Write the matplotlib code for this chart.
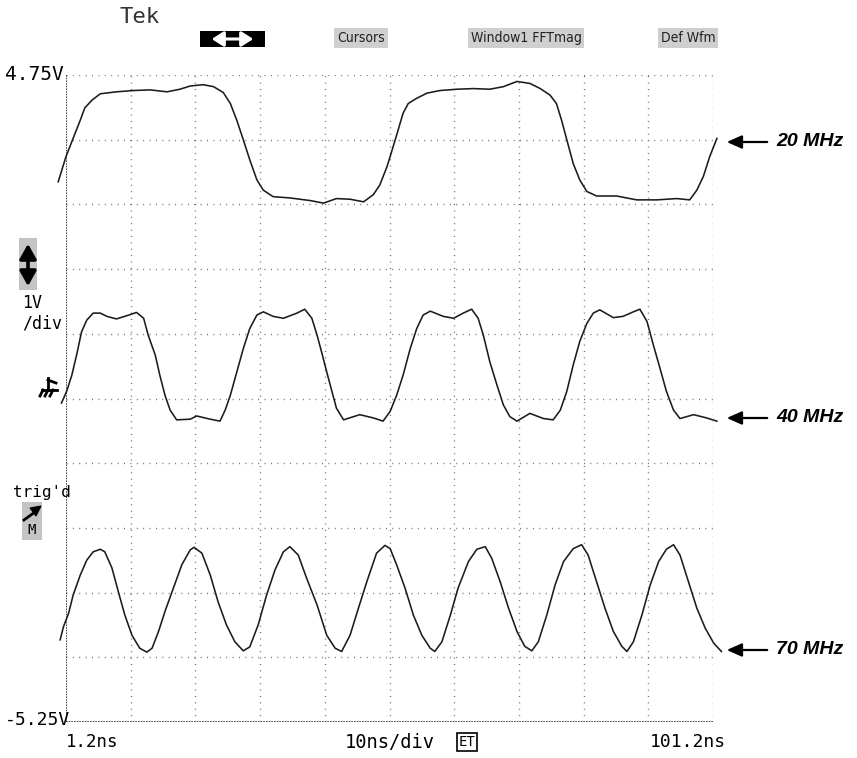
import numpy as np
import matplotlib.pyplot as plt
from matplotlib.patches import Rectangle, FancyArrowPatch, Polygon
from matplotlib.lines import Line2D

# scope settings
t_left, t_div = 1.2, 10.0      # ns
v_top, v_div = 4.75, 1.0       # V
n_div = 10

# 20 MHz trace (time in ns, volts)
t20 = [0.0, 1.2, 2.1, 3.4, 4.1, 5.2, 6.5, 9.0, 11.6, 14.2, 16.8, 18.8, 20.4, 22.4, 24.0,
       25.5, 26.6, 27.6, 28.6, 29.6, 30.7, 31.7, 33.2, 35.8, 38.9, 41.0, 43.0, 45.1, 47.2,
       48.7, 49.7, 50.8, 51.3, 52.3, 53.3, 54.1, 55.4, 57.0, 59.0, 61.6, 64.2, 66.7, 68.8,
       70.9, 72.9, 74.5, 76.0, 77.0, 77.8, 78.6, 79.6, 80.6, 81.7, 83.2, 86.3, 89.4, 92.5,
       95.6, 97.6, 98.7, 99.7, 100.7, 101.8]
v20 = [3.10, 3.49, 3.72, 4.05, 4.24, 4.36, 4.46, 4.49, 4.51, 4.52, 4.49, 4.53, 4.58, 4.60,
       4.57, 4.48, 4.31, 4.05, 3.75, 3.44, 3.13, 2.97, 2.87, 2.85, 2.81, 2.77, 2.84, 2.83,
       2.79, 2.90, 3.05, 3.33, 3.49, 3.82, 4.16, 4.31, 4.39, 4.47, 4.51, 4.53, 4.54, 4.53,
       4.57, 4.65, 4.62, 4.54, 4.44, 4.31, 4.05, 3.75, 3.38, 3.13, 2.95, 2.88, 2.88, 2.82,
       2.82, 2.84, 2.82, 2.97, 3.18, 3.49, 3.77]

# 40 MHz trace
t40 = [0.5, 1.3, 2.1, 2.9, 3.6, 4.4, 5.4, 6.5, 7.5, 9.0, 10.6, 12.1, 13.2, 13.9, 15.0,
       15.7, 16.5, 17.3, 18.3, 20.4, 21.4, 23.5, 25.0, 25.8, 26.6, 27.6, 28.6, 29.6, 30.7,
       31.7, 33.2, 34.8, 36.9, 38.1, 39.2, 40.0, 40.7, 41.5, 42.3, 43.0, 44.1, 46.6, 48.7,
       50.2, 51.3, 52.3, 53.3, 54.4, 55.4, 56.4, 57.5, 59.5, 61.1, 62.6, 63.9, 64.9, 65.7,
       66.7, 67.8, 68.8, 69.8, 70.9, 72.9, 75.0, 76.5, 77.6, 78.6, 79.6, 80.6, 81.7, 82.7,
       83.7, 85.8, 87.3, 88.9, 89.9, 91.0, 92.0, 93.0, 94.0, 95.1, 96.1, 98.2, 100.2, 101.8]
v40 = [-0.32, -0.14, 0.11, 0.45, 0.78, 0.96, 1.07, 1.07, 1.02, 0.98, 1.03, 1.08, 0.99,
       0.73, 0.42, 0.11, -0.20, -0.43, -0.58, -0.57, -0.52, -0.57, -0.60, -0.43, -0.20,
       0.16, 0.52, 0.83, 1.04, 1.09, 1.02, 0.99, 1.07, 1.13, 0.99, 0.73, 0.47, 0.16, -0.14,
       -0.40, -0.58, -0.50, -0.55, -0.60, -0.45, -0.20, 0.11, 0.52, 0.83, 1.04, 1.10, 1.02,
       0.99, 1.07, 1.13, 0.99, 0.73, 0.32, -0.04, -0.35, -0.53, -0.60, -0.48, -0.56, -0.58,
       -0.43, -0.14, 0.27, 0.63, 0.91, 1.07, 1.12, 1.00, 1.02, 1.09, 1.13, 0.94, 0.57, 0.22,
       -0.14, -0.43, -0.56, -0.50, -0.55, -0.60]

# 70 MHz trace
t70 = [0.3, 0.8, 1.6, 2.3, 3.4, 4.4, 5.4, 6.5, 7.2, 8.3, 9.3, 10.3, 11.4, 12.6, 13.7,
       14.5, 15.5, 16.5, 17.8, 19.1, 20.4, 21.0, 22.2, 23.5, 24.7, 26.0, 27.3, 28.6, 29.6,
       30.9, 32.2, 33.5, 34.8, 35.8, 37.1, 38.4, 40.0, 41.5, 42.8, 43.8, 45.1, 46.4, 47.7,
       49.2, 50.5, 51.3, 52.3, 53.6, 54.9, 56.2, 57.5, 58.2, 59.3, 60.6, 61.8, 63.4, 64.7,
       66.0, 67.0, 68.3, 69.6, 70.9, 72.1, 73.2, 74.2, 75.5, 76.8, 78.1, 79.6, 80.9, 81.9,
       83.2, 84.5, 85.8, 87.1, 87.9, 88.9, 90.2, 91.5, 92.8, 94.0, 95.1, 96.1, 97.4, 98.7,
       100.0, 101.3, 102.5]
v70 = [-3.98, -3.78, -3.57, -3.29, -2.98, -2.75, -2.62, -2.58, -2.62, -2.87, -3.24, -3.60,
       -3.91, -4.11, -4.17, -4.11, -3.85, -3.54, -3.18, -2.82, -2.59, -2.55, -2.64, -2.98,
       -3.39, -3.75, -4.01, -4.15, -4.09, -3.75, -3.29, -2.90, -2.62, -2.54, -2.67, -3.03,
       -3.44, -3.91, -4.11, -4.16, -3.91, -3.49, -3.08, -2.64, -2.52, -2.57, -2.82, -3.18,
       -3.60, -3.91, -4.11, -4.16, -4.01, -3.60, -3.18, -2.77, -2.58, -2.54, -2.72, -3.08,
       -3.49, -3.85, -4.08, -4.15, -4.01, -3.60, -3.13, -2.77, -2.57, -2.51, -2.67, -3.08,
       -3.49, -3.85, -4.08, -4.16, -4.01, -3.60, -3.13, -2.77, -2.58, -2.51, -2.67, -3.08,
       -3.49, -3.80, -4.03, -4.16]

trace_names = ['20 MHz', '40 MHz', '70 MHz']
menu_items = ['Cursors', 'Window1 FFTmag', 'Def Wfm']

W, H = 857, 758
fig = plt.figure(figsize=(W / 100, H / 100), dpi=100)
fig.patch.set_facecolor('white')


def P(x, y):
    """pixel position -> figure fraction"""
    return x / W, 1 - y / H


# graticule box in pixels
gx0, gx1, gy0, gy1 = 66, 713, 75, 722
ax = fig.add_axes([gx0 / W, 1 - gy1 / H, (gx1 - gx0) / W, (gy1 - gy0) / H])
t_right = t_left + n_div * t_div
v_bot = v_top - n_div * v_div
ax.set_xlim(t_left, t_right)
ax.set_ylim(v_bot, v_top)
ax.axis('off')

xs = t_left + t_div * np.arange(n_div + 1)
ys = v_top - v_div * np.arange(n_div + 1)
dots = (0, (0.7, 3.9))
for x in xs[1:]:
    ax.axvline(x, color='#6a6a6a', lw=1.0, ls=dots)
for y in ys[:-1]:
    ax.axhline(y, color='#6a6a6a', lw=1.0, ls=dots)
ax.axvline(xs[0], color='#303030', lw=1.2, ls=(0, (1, 0.6)))
ax.axhline(ys[-1], color='#303030', lw=1.2, ls=(0, (1, 0.6)))

for t, v in [(t20, v20), (t40, v40), (t70, v70)]:
    ax.plot(t, v, color='#1c1c1c', lw=1.15, clip_on=False)

# labels on the right with arrows
label_y = [142, 418, 650]
for lab, y in zip(trace_names, label_y):
    fig.patches.append(FancyArrowPatch(P(770, y), P(724, y), transform=fig.transFigure,
                                       arrowstyle='-|>,head_length=9,head_width=4',
                                       color='black', lw=1.6, mutation_scale=1))
    fig.text(*P(776, y), lab, ha='left', va='center', fontsize=14, fontweight='bold',
             fontstyle='italic', family='Liberation Sans')

mono = 'DejaVu Sans Mono'
fig.text(*P(34, 75), '4.75V', ha='center', va='center', fontsize=14, family=mono)
fig.text(*P(37, 720), '-5.25V', ha='center', va='center', fontsize=13, family=mono)
fig.text(*P(92, 742), '1.2ns', ha='center', va='center', fontsize=12.5, family=mono)
fig.text(*P(390, 742), '10ns/div', ha='center', va='center', fontsize=13.5, family=mono)
fig.text(*P(467, 742), 'ET', ha='center', va='center', fontsize=10, family=mono,
         bbox=dict(boxstyle='square,pad=0.15', fc='white', ec='black', lw=1.2))
fig.text(*P(688, 742), '101.2ns', ha='center', va='center', fontsize=13, family=mono)
fig.text(*P(32, 303), '1V', ha='center', va='center', fontsize=12, family=mono)
fig.text(*P(42, 323), '/div', ha='center', va='center', fontsize=12, family=mono)
fig.text(*P(42, 492), "trig'd", ha='center', va='center', fontsize=11.5, family=mono)

# top menu bar
fig.text(*P(140, 17), 'Tek', ha='center', va='center', fontsize=16, color='#333333',
         family=mono)
fig.patches.append(Rectangle(P(200, 47), 65 / W, 16 / H, transform=fig.transFigure,
                             fc='black', ec='none'))
fig.patches.append(FancyArrowPatch(P(209, 39), P(256, 39), transform=fig.transFigure,
                                   arrowstyle='<|-|>,head_length=7,head_width=4.5',
                                   color='white', lw=2.2, mutation_scale=1))
for lab, x in zip(menu_items, [361, 526, 688]):
    fig.text(*P(x, 38), lab, ha='center', va='center', fontsize=10,
             family='DejaVu Sans', stretch='condensed', color='#222222',
             bbox=dict(boxstyle='square,pad=0.2', fc='#cfcfcf', ec='none'))

# volts/div icon
fig.patches.append(Rectangle(P(19, 290), 18 / W, 52 / H, transform=fig.transFigure,
                             fc='#c4c4c4', ec='none'))
fig.patches.append(FancyArrowPatch(P(28, 241), P(28, 289), transform=fig.transFigure,
                                   arrowstyle='<|-|>,head_length=9,head_width=5',
                                   color='black', lw=2.6, mutation_scale=1))

# ground marker
gnd = [((48, 378), (48, 390)), ((48, 380), (56, 383)), ((42, 390), (57, 390)),
       ((43, 390), (40, 396)), ((48, 390), (45, 396)), ((53, 390), (50, 396))]
for a, b in gnd:
    fig.lines.append(Line2D([a[0] / W, b[0] / W], [1 - a[1] / H, 1 - b[1] / H],
                            transform=fig.transFigure, color='black', lw=2.0))

# trigger icon: slanted arrow over an M
fig.patches.append(Rectangle(P(22, 540), 20 / W, 38 / H, transform=fig.transFigure,
                             fc='#c4c4c4', ec='none'))
fig.lines.append(Line2D([24 / W, 35 / W], [1 - 520 / H, 1 - 512 / H],
                        transform=fig.transFigure, color='black', lw=2.0))
fig.patches.append(Polygon([P(41, 506), P(30, 508), P(36, 516)], closed=True,
                           transform=fig.transFigure, fc='black', ec='black', lw=0.8))
fig.text(*P(32, 530), 'M', ha='center', va='center', fontsize=10, family=mono)

fig.savefig('out.png', dpi=100)
